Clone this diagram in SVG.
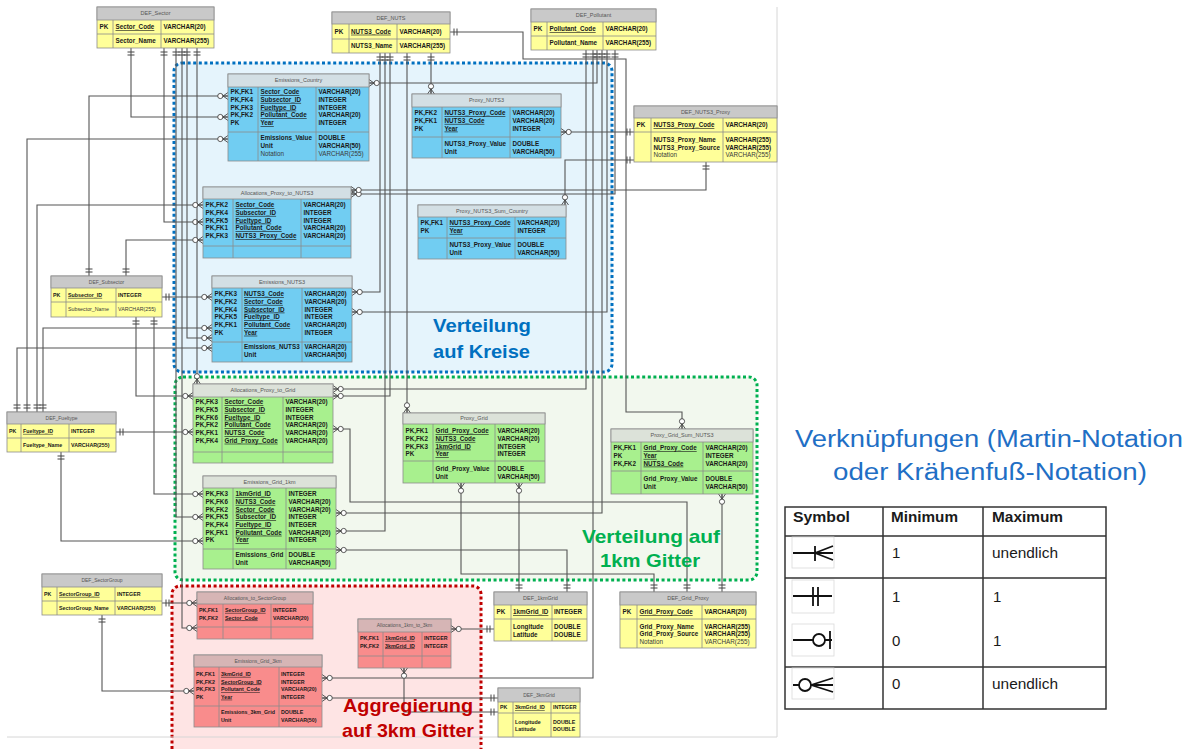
<svg xmlns="http://www.w3.org/2000/svg" width="1189" height="749" viewBox="0 0 1189 749">
<style>
text{font-family:"Liberation Sans",Arial,sans-serif}
.t text{font-size:6.3px;font-weight:bold;fill:#1a1a1a}
.t .ht{font-size:5.5px;font-weight:normal;fill:#555;text-anchor:middle}
.t .n{font-weight:normal;fill:#3a3a3a}
.t .u{text-decoration:underline}
.sm text{font-size:5.3px}
.sm .ht{font-size:5px}
.t rect{stroke:#8c8c8c;stroke-width:0.8}
.t .gl{fill:none;stroke:#8c8c8c;stroke-width:0.8}
.y .bd{fill:#FFFF99}.y .hd{fill:#C9C9C9}
.bl .bd{fill:#71CDF2}.bl .hd{fill:#D3DFE4}
.gr .bd{fill:#A8F08E}.gr .hd{fill:#DCE2D9}
.rd .bd{fill:#F98C8C}.rd .hd{fill:#D6B5B5}
.cn path{fill:none;stroke:#555;stroke-width:1.1;marker-start:url(#one);marker-end:url(#many)}
.lbl{font-size:19px;font-weight:bold}
.lt{font-size:23px;fill:#1F6FC5}
.lh{font-size:15px;font-weight:bold;fill:#1a1a1a}
.lr{font-size:15px;fill:#1a1a1a}
.sym{fill:none;stroke:#111;stroke-width:1.8}
.sbox{fill:#fff;stroke:#dadada;stroke-width:0.8}
</style>
<defs>
<marker id="one" markerUnits="userSpaceOnUse" orient="auto" refX="0" refY="0" markerWidth="12" markerHeight="12" overflow="visible">
<path d="M4,-3.5V3.5M7,-3.5V3.5" fill="none" stroke="#444" stroke-width="1"/>
</marker>
<marker id="many" markerUnits="userSpaceOnUse" orient="auto" refX="0" refY="0" markerWidth="14" markerHeight="12" overflow="visible">
<path d="M-5,0L0,-3.5M-5,0L0,0M-5,0L0,3.5" fill="none" stroke="#444" stroke-width="0.9"/>
<circle cx="-7.7" cy="0" r="2.6" fill="#fff" stroke="#444" stroke-width="0.9"/>
</marker>
</defs>
<rect width="1189" height="749" fill="#fff"/>
<g id="regions">
<rect x="172" y="586" width="309" height="185" rx="8" fill="#FEE4E4" stroke="#C00000" stroke-width="3" stroke-dasharray="3 2.6"/>
<rect x="175" y="377" width="582" height="203" rx="8" fill="#F2F8EE" stroke="#00B050" stroke-width="3" stroke-dasharray="3 2.6"/>
<rect x="174" y="63" width="438" height="309" rx="8" fill="#E5F4FC" stroke="#0070C0" stroke-width="3" stroke-dasharray="3 2.6"/>
</g>
<path d="M777,7V737M7,737H777" fill="none" stroke="#d6d6d6" stroke-width="1"/>
<g id="connectors" class="cn">
<path d="M131,48V117H228"/>
<path d="M164,48V222H203"/>
<path d="M176,48V517H203"/>
<path d="M182,48V628H197"/>
<path d="M187,48V338H212"/>
<path d="M197,48V384"/>
<path d="M89,276V96H228"/>
<path d="M126,276V240H203"/>
<path d="M162,297H212"/>
<path d="M136,317V396H193"/>
<path d="M154,317V494H203"/>
<path d="M17,412V348H212"/>
<path d="M27,412V139H228"/>
<path d="M37,412V205H203"/>
<path d="M43,412V328H212"/>
<path d="M116,432H193"/>
<path d="M61,452V541H203"/>
<path d="M162,603H197"/>
<path d="M102,615V691H194"/>
<path d="M380,53V292H352"/>
<path d="M385,53V531H336"/>
<path d="M390,53V396H333"/>
<path d="M407,53V413"/>
<path d="M431,53V94"/>
<path d="M450,32H523V59H626V412H682V429"/>
<path d="M586,50V389H333"/>
<path d="M593,50V678H322"/>
<path d="M597,50V83H369"/>
<path d="M602,50V513H336"/>
<path d="M607,50V312H352"/>
<path d="M615,50V194H351"/>
<path d="M634,132H561"/>
<path d="M634,160H565V205"/>
<path d="M706,162V190H351"/>
<path d="M654,592V574H461V483"/>
<path d="M519,592V483"/>
<path d="M687,592V502H350V429H333"/>
<path d="M722,592V494"/>
<path d="M567,592V550H336"/>
<path d="M494,629H451"/>
<path d="M498,712H404V668"/>
<path d="M498,698H322"/>
</g>
<g id="DEF_Sector" class="t y">
<rect class="bd" x="97" y="7" width="117" height="41"/><rect class="hd" x="97" y="7" width="117" height="13"/>
<path class="gl" d="M97,34H214M113,20V48M161,20V48"/>
<text class="ht" x="155.5" y="15.4">DEF_Sector</text>
<text x="99.5" y="29.2">PK</text><text class="u" x="115.5" y="29.2">Sector_Code</text><text x="163.5" y="29.2">VARCHAR(20)</text>
<text x="115.5" y="43.2">Sector_Name</text><text x="163.5" y="43.2">VARCHAR(255)</text>
</g>
<g id="DEF_NUTS" class="t y">
<rect class="bd" x="332" y="12" width="118" height="41"/><rect class="hd" x="332" y="12" width="118" height="12"/>
<path class="gl" d="M332,39H450M349,24V53M397,24V53"/>
<text class="ht" x="391" y="19.9">DEF_NUTS</text>
<text x="334.5" y="33.7">PK</text><text class="u" x="351" y="33.7">NUTS3_Code</text><text x="399.5" y="33.7">VARCHAR(20)</text>
<text x="351" y="48.2">NUTS3_Name</text><text x="399.5" y="48.2">VARCHAR(255)</text>
</g>
<g id="DEF_Pollutant" class="t y">
<rect class="bd" x="531" y="9" width="125" height="41"/><rect class="hd" x="531" y="9" width="125" height="13"/>
<path class="gl" d="M531,36H656M547,22V50M603,22V50"/>
<text class="ht" x="593.5" y="17.4">DEF_Pollutant</text>
<text x="533.5" y="31.2">PK</text><text class="u" x="549.5" y="31.2">Pollutant_Code</text><text x="605.5" y="31.2">VARCHAR(20)</text>
<text x="549.5" y="45.2">Pollutant_Name</text><text x="605.5" y="45.2">VARCHAR(255)</text>
</g>
<g id="DEF_NUTS3_Proxy" class="t y">
<rect class="bd" x="634" y="106" width="143" height="56"/><rect class="hd" x="634" y="106" width="143" height="12"/>
<path class="gl" d="M634,132H777M651,118V162M723,118V162"/>
<text class="ht" x="705.5" y="113.9">DEF_NUTS3_Proxy</text>
<text x="636.5" y="127.2">PK</text><text class="u" x="653.5" y="127.2">NUTS3_Proxy_Code</text><text x="725.5" y="127.2">VARCHAR(20)</text>
<text x="653.5" y="142.2">NUTS3_Proxy_Name<tspan x="653.5" dy="7.5">NUTS3_Proxy_Source</tspan><tspan class="n" x="653.5" dy="7.5">Notation</tspan></text>
<text x="725.5" y="142.2">VARCHAR(255)<tspan x="725.5" dy="7.5">VARCHAR(255)</tspan><tspan class="n" x="725.5" dy="7.5">VARCHAR(255)</tspan></text>
</g>
<g id="Emissions_Country" class="t bl">
<rect class="bd" x="228" y="74" width="141" height="87"/><rect class="hd" x="228" y="74" width="141" height="13"/>
<path class="gl" d="M228,132H369M258,87V161M316,87V161"/>
<text class="ht" x="298.5" y="82.4">Emissions_Country</text>
<text x="230.5" y="94.2">PK,FK1<tspan x="230.5" dy="7.7">PK,FK4</tspan><tspan x="230.5" dy="7.7">PK,FK3</tspan><tspan x="230.5" dy="7.7">PK,FK2</tspan><tspan x="230.5" dy="7.7">PK</tspan></text>
<text class="u" x="260.5" y="94.2">Sector_Code<tspan x="260.5" dy="7.7">Subsector_ID</tspan><tspan x="260.5" dy="7.7">Fueltype_ID</tspan><tspan x="260.5" dy="7.7">Pollutant_Code</tspan><tspan x="260.5" dy="7.7">Year</tspan></text>
<text x="318.5" y="94.2">VARCHAR(20)<tspan x="318.5" dy="7.7">INTEGER</tspan><tspan x="318.5" dy="7.7">INTEGER</tspan><tspan x="318.5" dy="7.7">VARCHAR(20)</tspan><tspan x="318.5" dy="7.7">INTEGER</tspan></text>
<text x="260.5" y="140.2">Emissions_Value<tspan x="260.5" dy="7.8">Unit</tspan><tspan class="n" x="260.5" dy="7.8">Notation</tspan></text>
<text x="318.5" y="140.2">DOUBLE<tspan x="318.5" dy="7.8">VARCHAR(50)</tspan><tspan class="n" x="318.5" dy="7.8">VARCHAR(255)</tspan></text>
</g>
<g id="Proxy_NUTS3" class="t bl">
<rect class="bd" x="412" y="94" width="149" height="64"/><rect class="hd" x="412" y="94" width="149" height="13"/>
<path class="gl" d="M412,137H561M442,107V158M510,107V158"/>
<text class="ht" x="486.5" y="102.4">Proxy_NUTS3</text>
<text x="414.5" y="115.2">PK,FK2<tspan x="414.5" dy="7.7">PK,FK1</tspan><tspan x="414.5" dy="7.7">PK</tspan></text>
<text class="u" x="444.5" y="115.2">NUTS3_Proxy_Code<tspan x="444.5" dy="7.7">NUTS3_Code</tspan><tspan x="444.5" dy="7.7">Year</tspan></text>
<text x="512.5" y="115.2">VARCHAR(20)<tspan x="512.5" dy="7.7">VARCHAR(20)</tspan><tspan x="512.5" dy="7.7">INTEGER</tspan></text>
<text x="444.5" y="146.2">NUTS3_Proxy_Value<tspan x="444.5" dy="7.7">Unit</tspan></text>
<text x="512.5" y="146.2">DOUBLE<tspan x="512.5" dy="7.7">VARCHAR(50)</tspan></text>
</g>
<g id="Allocations_Proxy_to_NUTS3" class="t bl">
<rect class="bd" x="203" y="187" width="148" height="71"/><rect class="hd" x="203" y="187" width="148" height="12"/>
<path class="gl" d="M203,246H351M233,199V258M301,199V258"/>
<text class="ht" x="277" y="194.9">Allocations_Proxy_to_NUTS3</text>
<text x="205.5" y="207.2">PK,FK2<tspan x="205.5" dy="7.7">PK,FK4</tspan><tspan x="205.5" dy="7.7">PK,FK5</tspan><tspan x="205.5" dy="7.7">PK,FK1</tspan><tspan x="205.5" dy="7.7">PK,FK3</tspan></text>
<text class="u" x="235.5" y="207.2">Sector_Code<tspan x="235.5" dy="7.7">Subsector_ID</tspan><tspan x="235.5" dy="7.7">Fueltype_ID</tspan><tspan x="235.5" dy="7.7">Pollutant_Code</tspan><tspan x="235.5" dy="7.7">NUTS3_Proxy_Code</tspan></text>
<text x="303.5" y="207.2">VARCHAR(20)<tspan x="303.5" dy="7.7">INTEGER</tspan><tspan x="303.5" dy="7.7">INTEGER</tspan><tspan x="303.5" dy="7.7">VARCHAR(20)</tspan><tspan x="303.5" dy="7.7">VARCHAR(20)</tspan></text>
</g>
<g id="Proxy_NUTS3_Sum_Country" class="t bl">
<rect class="bd" x="418" y="205" width="148" height="54"/><rect class="hd" x="418" y="205" width="148" height="12"/>
<path class="gl" d="M418,238H566M447,217V259M515,217V259"/>
<text class="ht" x="492" y="212.9">Proxy_NUTS3_Sum_Country</text>
<text x="420.5" y="225.2">PK,FK1<tspan x="420.5" dy="7.7">PK</tspan></text>
<text class="u" x="449.5" y="225.2">NUTS3_Proxy_Code<tspan x="449.5" dy="7.7">Year</tspan></text>
<text x="517.5" y="225.2">VARCHAR(20)<tspan x="517.5" dy="7.7">INTEGER</tspan></text>
<text x="449.5" y="247.2">NUTS3_Proxy_Value<tspan x="449.5" dy="7.7">Unit</tspan></text>
<text x="517.5" y="247.2">DOUBLE<tspan x="517.5" dy="7.7">VARCHAR(50)</tspan></text>
</g>
<g id="Emissions_NUTS3" class="t bl">
<rect class="bd" x="212" y="276" width="140" height="86"/><rect class="hd" x="212" y="276" width="140" height="12"/>
<path class="gl" d="M212,342H352M242,288V362M302,288V362"/>
<text class="ht" x="282" y="283.9">Emissions_NUTS3</text>
<text x="214.5" y="296.2">PK,FK3<tspan x="214.5" dy="7.7">PK,FK2</tspan><tspan x="214.5" dy="7.7">PK,FK4</tspan><tspan x="214.5" dy="7.7">PK,FK5</tspan><tspan x="214.5" dy="7.7">PK,FK1</tspan><tspan x="214.5" dy="7.7">PK</tspan></text>
<text class="u" x="244" y="296.2">NUTS3_Code<tspan x="244" dy="7.7">Sector_Code</tspan><tspan x="244" dy="7.7">Subsector_ID</tspan><tspan x="244" dy="7.7">Fueltype_ID</tspan><tspan x="244" dy="7.7">Pollutant_Code</tspan><tspan x="244" dy="7.7">Year</tspan></text>
<text x="304.5" y="296.2">VARCHAR(20)<tspan x="304.5" dy="7.7">VARCHAR(20)</tspan><tspan x="304.5" dy="7.7">INTEGER</tspan><tspan x="304.5" dy="7.7">INTEGER</tspan><tspan x="304.5" dy="7.7">VARCHAR(20)</tspan><tspan x="304.5" dy="7.7">INTEGER</tspan></text>
<text x="244" y="349.2">Emissions_NUTS3<tspan x="244" dy="7.7">Unit</tspan></text>
<text x="304.5" y="349.2">VARCHAR(20)<tspan x="304.5" dy="7.7">VARCHAR(50)</tspan></text>
</g>
<g id="Allocations_Proxy_to_Grid" class="t gr">
<rect class="bd" x="193" y="384" width="140" height="79"/><rect class="hd" x="193" y="384" width="140" height="13"/>
<path class="gl" d="M193,452H333M222,397V463M283,397V463"/>
<text class="ht" x="263" y="392.4">Allocations_Proxy_to_Grid</text>
<text x="195.5" y="404.2">PK,FK3<tspan x="195.5" dy="7.7">PK,FK5</tspan><tspan x="195.5" dy="7.7">PK,FK6</tspan><tspan x="195.5" dy="7.7">PK,FK2</tspan><tspan x="195.5" dy="7.7">PK,FK1</tspan><tspan x="195.5" dy="7.7">PK,FK4</tspan></text>
<text class="u" x="224.5" y="404.2">Sector_Code<tspan x="224.5" dy="7.7">Subsector_ID</tspan><tspan x="224.5" dy="7.7">Fueltype_ID</tspan><tspan x="224.5" dy="7.7">Pollutant_Code</tspan><tspan x="224.5" dy="7.7">NUTS3_Code</tspan><tspan x="224.5" dy="7.7">Grid_Proxy_Code</tspan></text>
<text x="285.5" y="404.2">VARCHAR(20)<tspan x="285.5" dy="7.7">INTEGER</tspan><tspan x="285.5" dy="7.7">INTEGER</tspan><tspan x="285.5" dy="7.7">VARCHAR(20)</tspan><tspan x="285.5" dy="7.7">VARCHAR(20)</tspan><tspan x="285.5" dy="7.7">VARCHAR(20)</tspan></text>
</g>
<g id="Proxy_Grid" class="t gr">
<rect class="bd" x="403" y="413" width="142" height="70"/><rect class="hd" x="403" y="413" width="142" height="11"/>
<path class="gl" d="M403,461H545M433,424V483M495,424V483"/>
<text class="ht" x="474" y="420.4">Proxy_Grid</text>
<text x="405.5" y="433.2">PK,FK1<tspan x="405.5" dy="7.7">PK,FK2</tspan><tspan x="405.5" dy="7.7">PK,FK3</tspan><tspan x="405.5" dy="7.7">PK</tspan></text>
<text class="u" x="435.5" y="433.2">Grid_Proxy_Code<tspan x="435.5" dy="7.7">NUTS3_Code</tspan><tspan x="435.5" dy="7.7">1kmGrid_ID</tspan><tspan x="435.5" dy="7.7">Year</tspan></text>
<text x="497.5" y="433.2">VARCHAR(20)<tspan x="497.5" dy="7.7">VARCHAR(20)</tspan><tspan x="497.5" dy="7.7">INTEGER</tspan><tspan x="497.5" dy="7.7">INTEGER</tspan></text>
<text x="435.5" y="471.2">Grid_Proxy_Value<tspan x="435.5" dy="7.7">Unit</tspan></text>
<text x="497.5" y="471.2">DOUBLE<tspan x="497.5" dy="7.7">VARCHAR(50)</tspan></text>
</g>
<g id="Proxy_Grid_Sum_NUTS3" class="t gr">
<rect class="bd" x="611" y="429" width="142" height="65"/><rect class="hd" x="611" y="429" width="142" height="13"/>
<path class="gl" d="M611,471H753M641,442V494M703,442V494"/>
<text class="ht" x="682" y="437.4">Proxy_Grid_Sum_NUTS3</text>
<text x="613.5" y="450.2">PK,FK1<tspan x="613.5" dy="7.7">PK</tspan><tspan x="613.5" dy="7.7">PK,FK2</tspan></text>
<text class="u" x="643.5" y="450.2">Grid_Proxy_Code<tspan x="643.5" dy="7.7">Year</tspan><tspan x="643.5" dy="7.7">NUTS3_Code</tspan></text>
<text x="705.5" y="450.2">VARCHAR(20)<tspan x="705.5" dy="7.7">INTEGER</tspan><tspan x="705.5" dy="7.7">VARCHAR(20)</tspan></text>
<text x="643.5" y="481.2">Grid_Proxy_Value<tspan x="643.5" dy="7.7">Unit</tspan></text>
<text x="705.5" y="481.2">DOUBLE<tspan x="705.5" dy="7.7">VARCHAR(50)</tspan></text>
</g>
<g id="Emissions_Grid_1km" class="t gr">
<rect class="bd" x="203" y="476" width="133" height="93"/><rect class="hd" x="203" y="476" width="133" height="12"/>
<path class="gl" d="M203,549H336M233,488V569M286,488V569"/>
<text class="ht" x="269.5" y="483.9">Emissions_Grid_1km</text>
<text x="205.5" y="496.2">PK,FK3<tspan x="205.5" dy="7.7">PK,FK6</tspan><tspan x="205.5" dy="7.7">PK,FK2</tspan><tspan x="205.5" dy="7.7">PK,FK5</tspan><tspan x="205.5" dy="7.7">PK,FK4</tspan><tspan x="205.5" dy="7.7">PK,FK1</tspan><tspan x="205.5" dy="7.7">PK</tspan></text>
<text class="u" x="235.5" y="496.2">1kmGrid_ID<tspan x="235.5" dy="7.7">NUTS3_Code</tspan><tspan x="235.5" dy="7.7">Sector_Code</tspan><tspan x="235.5" dy="7.7">Subsector_ID</tspan><tspan x="235.5" dy="7.7">Fueltype_ID</tspan><tspan x="235.5" dy="7.7">Pollutant_Code</tspan><tspan x="235.5" dy="7.7">Year</tspan></text>
<text x="288.5" y="496.2">INTEGER<tspan x="288.5" dy="7.7">VARCHAR(20)</tspan><tspan x="288.5" dy="7.7">VARCHAR(20)</tspan><tspan x="288.5" dy="7.7">INTEGER</tspan><tspan x="288.5" dy="7.7">INTEGER</tspan><tspan x="288.5" dy="7.7">VARCHAR(20)</tspan><tspan x="288.5" dy="7.7">INTEGER</tspan></text>
<text x="235.5" y="557.2">Emissions_Grid<tspan x="235.5" dy="7.7">Unit</tspan></text>
<text x="288.5" y="557.2">DOUBLE<tspan x="288.5" dy="7.7">VARCHAR(50)</tspan></text>
</g>
<g id="DEF_Subsector" class="t y sm">
<rect class="bd" x="51" y="276" width="111" height="41"/><rect class="hd" x="51" y="276" width="111" height="12"/>
<path class="gl" d="M51,302H162M66,288V317M116,288V317"/>
<text class="ht" x="106.5" y="283.8">DEF_Subsector</text>
<text x="53" y="296.9">PK</text><text class="u" x="68" y="296.9">Subsector_ID</text><text x="118" y="296.9">INTEGER</text>
<text class="n" x="68" y="311.4">Subsector_Name</text><text class="n" x="118" y="311.4">VARCHAR(255)</text>
</g>
<g id="DEF_Fueltype" class="t y sm">
<rect class="bd" x="7" y="412" width="109" height="40"/><rect class="hd" x="7" y="412" width="109" height="12"/>
<path class="gl" d="M7,438H116M21,424V452M69,424V452"/>
<text class="ht" x="61.5" y="419.8">DEF_Fueltype</text>
<text x="9" y="432.9">PK</text><text class="u" x="23" y="432.9">Fueltype_ID</text><text x="71" y="432.9">INTEGER</text>
<text x="23" y="446.9">Fueltype_Name</text><text x="71" y="446.9">VARCHAR(255)</text>
</g>
<g id="DEF_SectorGroup" class="t y sm">
<rect class="bd" x="42" y="574" width="120" height="41"/><rect class="hd" x="42" y="574" width="120" height="13"/>
<path class="gl" d="M42,601H162M57,587V615M115,587V615"/>
<text class="ht" x="102" y="582.3">DEF_SectorGroup</text>
<text x="44" y="595.9">PK</text><text class="u" x="59" y="595.9">SectorGroup_ID</text><text x="117" y="595.9">INTEGER</text>
<text x="59" y="609.9">SectorGroup_Name</text><text x="117" y="609.9">VARCHAR(255)</text>
</g>
<g id="Allocations_to_SectorGroup" class="t rd sm">
<rect class="bd" x="197" y="592" width="116" height="47"/><rect class="hd" x="197" y="592" width="116" height="12"/>
<path class="gl" d="M197,627H313M223,604V639M271,604V639"/>
<text class="ht" x="255" y="599.8">Allocations_to_SectorGroup</text>
<text x="199" y="611.9">PK,FK1<tspan x="199" dy="7.6">PK,FK2</tspan></text>
<text class="u" x="225" y="611.9">SectorGroup_ID<tspan x="225" dy="7.6">Sector_Code</tspan></text>
<text x="273" y="611.9">INTEGER<tspan x="273" dy="7.6">VARCHAR(20)</tspan></text>
</g>
<g id="Allocations_1km_to_3km" class="t rd sm">
<rect class="bd" x="358" y="619" width="93" height="49"/><rect class="hd" x="358" y="619" width="93" height="13"/>
<path class="gl" d="M358,656H451M383,632V668M422,632V668"/>
<text class="ht" x="404.5" y="627.3">Allocations_1km_to_3km</text>
<text x="360" y="639.9">PK,FK1<tspan x="360" dy="7.6">PK,FK2</tspan></text>
<text class="u" x="385" y="639.9">1kmGrid_ID<tspan x="385" dy="7.6">3kmGrid_ID</tspan></text>
<text x="424" y="639.9">INTEGER<tspan x="424" dy="7.6">INTEGER</tspan></text>
</g>
<g id="Emissions_Grid_3km" class="t rd sm">
<rect class="bd" x="194" y="655" width="128" height="72"/><rect class="hd" x="194" y="655" width="128" height="12"/>
<path class="gl" d="M194,706H322M219,667V727M279,667V727"/>
<text class="ht" x="258" y="662.8">Emissions_Grid_3km</text>
<text x="196" y="675.9">PK,FK1<tspan x="196" dy="7.6">PK,FK2</tspan><tspan x="196" dy="7.6">PK,FK3</tspan><tspan x="196" dy="7.6">PK</tspan></text>
<text class="u" x="221" y="675.9">3kmGrid_ID<tspan x="221" dy="7.6">SectorGroup_ID</tspan><tspan x="221" dy="7.6">Pollutant_Code</tspan><tspan x="221" dy="7.6">Year</tspan></text>
<text x="281" y="675.9">INTEGER<tspan x="281" dy="7.6">INTEGER</tspan><tspan x="281" dy="7.6">VARCHAR(20)</tspan><tspan x="281" dy="7.6">INTEGER</tspan></text>
<text x="221" y="713.9">Emissions_3km_Grid<tspan x="221" dy="7.6">Unit</tspan></text>
<text x="281" y="713.9">DOUBLE<tspan x="281" dy="7.6">VARCHAR(50)</tspan></text>
</g>
<g id="DEF_1kmGrid" class="t y">
<rect class="bd" x="494" y="592" width="93" height="49"/><rect class="hd" x="494" y="592" width="93" height="13"/>
<path class="gl" d="M494,619H587M511,605V641M552,605V641"/>
<text class="ht" x="540.5" y="600.3">DEF_1kmGrid</text>
<text x="496.5" y="614.2">PK</text><text class="u" x="513" y="614.2">1kmGrid_ID</text><text x="554" y="614.2">INTEGER</text>
<text x="513" y="629.2">Longitude<tspan x="513" dy="7.5">Latitude</tspan></text>
<text x="554" y="629.2">DOUBLE<tspan x="554" dy="7.5">DOUBLE</tspan></text>
</g>
<g id="DEF_3kmGrid" class="t y sm">
<rect class="bd" x="498" y="688" width="82" height="49"/><rect class="hd" x="498" y="688" width="82" height="14"/>
<path class="gl" d="M498,713H580M513,702V737M551,702V737"/>
<text class="ht" x="539" y="696.8">DEF_3kmGrid</text>
<text x="500" y="709.4">PK</text><text class="u" x="515" y="709.4">3kmGrid_ID</text><text x="553" y="709.4">INTEGER</text>
<text x="515" y="723.9">Longitude<tspan x="515" dy="7.5">Latitude</tspan></text>
<text x="553" y="723.9">DOUBLE<tspan x="553" dy="7.5">DOUBLE</tspan></text>
</g>
<g id="DEF_Grid_Proxy" class="t y">
<rect class="bd" x="620" y="592" width="136" height="56"/><rect class="hd" x="620" y="592" width="136" height="13"/>
<path class="gl" d="M620,619H756M637,605V648M702,605V648"/>
<text class="ht" x="688" y="600.3">DEF_Grid_Proxy</text>
<text x="622.5" y="614.2">PK</text><text class="u" x="639.5" y="614.2">Grid_Proxy_Code</text><text x="704.5" y="614.2">VARCHAR(20)</text>
<text x="639.5" y="628.7">Grid_Proxy_Name<tspan x="639.5" dy="7.5">Grid_Proxy_Source</tspan><tspan class="n" x="639.5" dy="7.5">Notation</tspan></text>
<text x="704.5" y="628.7">VARCHAR(255)<tspan x="704.5" dy="7.5">VARCHAR(255)</tspan><tspan class="n" x="704.5" dy="7.5">VARCHAR(255)</tspan></text>
</g>
<g id="region-labels">
<text class="lbl" fill="#0070C0" x="433" y="332" textLength="98" lengthAdjust="spacingAndGlyphs">Verteilung</text>
<text class="lbl" fill="#0070C0" x="433" y="358" textLength="97" lengthAdjust="spacingAndGlyphs">auf Kreise</text>
<text class="lbl" fill="#00B050" x="582" y="543" textLength="138" lengthAdjust="spacingAndGlyphs">Verteilung  auf</text>
<text class="lbl" fill="#00B050" x="600" y="567" textLength="100" lengthAdjust="spacingAndGlyphs">1km Gitter</text>
<text class="lbl" fill="#C00000" x="343" y="712" textLength="130" lengthAdjust="spacingAndGlyphs">Aggregierung</text>
<text class="lbl" fill="#C00000" x="342" y="737" textLength="132" lengthAdjust="spacingAndGlyphs">auf 3km Gitter</text>
</g>
<g id="legend">
<text class="lt" x="795" y="447" textLength="388" lengthAdjust="spacingAndGlyphs">Verknüpfungen  (Martin-Notation</text>
<text class="lt" x="833" y="480" textLength="314" lengthAdjust="spacingAndGlyphs">oder Krähenfuß-Notation)</text>
<rect x="785" y="507" width="321" height="202" fill="#fff" stroke="#333" stroke-width="1.5"/>
<path d="M785,536H1106M785,578H1106M785,667H1106M883,507V709M983,507V709" fill="none" stroke="#333" stroke-width="1.5"/>
<text class="lh" x="793" y="522" textLength="57" lengthAdjust="spacingAndGlyphs">Symbol</text>
<text class="lh" x="891" y="522" textLength="67" lengthAdjust="spacingAndGlyphs">Minimum</text>
<text class="lh" x="992" y="522" textLength="71" lengthAdjust="spacingAndGlyphs">Maximum</text>
<text class="lr" x="892" y="558">1</text>
<text class="lr" x="992" y="558" textLength="66" lengthAdjust="spacingAndGlyphs">unendlich</text>
<text class="lr" x="892" y="602">1</text>
<text class="lr" x="993" y="602">1</text>
<text class="lr" x="892" y="646">0</text>
<text class="lr" x="993" y="646">1</text>
<text class="lr" x="892" y="689">0</text>
<text class="lr" x="992" y="689" textLength="66" lengthAdjust="spacingAndGlyphs">unendlich</text>
<rect class="sbox" x="792" y="537" width="42" height="31"/>
<path class="sym" d="M793,553H833M815,546V561M815,553L833,546M815,553L833,560"/>
<rect class="sbox" x="792" y="580" width="42" height="33"/>
<path class="sym" d="M793,596H832M813,587V606M818,587V606"/>
<rect class="sbox" x="792" y="624" width="42" height="32"/>
<path class="sym" d="M793,640H813M825,640H832M830,631V649"/>
<circle class="sym" cx="819" cy="640" r="6"/>
<rect class="sbox" x="792" y="668" width="42" height="31"/>
<path class="sym" d="M793,685H799M811,685L833,678M811,685H833M811,685L833,692"/>
<circle class="sym" cx="805" cy="685" r="6"/>
</g>
</svg>
